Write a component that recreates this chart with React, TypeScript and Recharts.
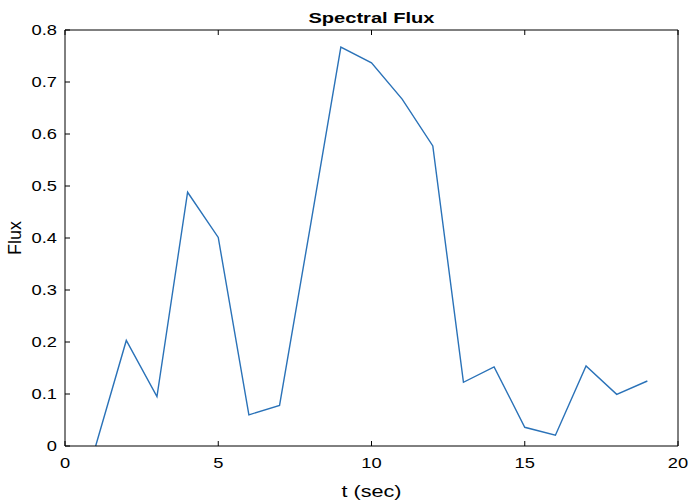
import React from 'react';
import { LineChart, Line, XAxis, YAxis } from 'recharts';

const times = [1, 2, 3, 4, 5, 6, 7, 8, 9, 10, 11, 12, 13, 14, 15, 16, 17, 18, 19];
const flux = [0, 0.203, 0.095, 0.488, 0.401, 0.06, 0.078, 0.421, 0.767, 0.737, 0.667, 0.577, 0.1225, 0.152, 0.036, 0.0206, 0.154, 0.0994, 0.125];
const xTicks = [0, 5, 10, 15, 20];
const yTicks = [0, 0.1, 0.2, 0.3, 0.4, 0.5, 0.6, 0.7, 0.8];

const data = times.map((t, i) => ({ t, flux: flux[i] }));

const font = 'Liberation Sans, Arial, Helvetica, sans-serif';
const STRETCH = 1.22;

const fmtY = (v: number) => (v === 0 ? '0' : String(Math.round(v * 10) / 10));

const stretchAt = (x: number, y: number, s: number) =>
  `translate(${x} ${y}) scale(${s} 1) translate(${-x} ${-y})`;

const YTick = (props: any) => {
  const { x, y, payload } = props;
  return (
    <text x={x} y={y} dy="0.355em" textAnchor="end" fontSize={15} fontFamily={font} fill="#000" transform={stretchAt(x, y, STRETCH)}>
      {fmtY(payload.value)}
    </text>
  );
};

const XTick = (props: any) => {
  const { x, y, payload } = props;
  return (
    <text x={x} y={y} dy="0.71em" textAnchor="middle" fontSize={15} fontFamily={font} fill="#000" transform={stretchAt(x, y, STRETCH)}>
      {String(payload.value)}
    </text>
  );
};

export default function App() {
  return (
    <div style={{ position: 'absolute', left: 0, top: 0, background: '#fff' }}>
      <LineChart width={689} height={501} data={data} margin={{ top: 29, right: 10, bottom: 0, left: 0 }}>
        <XAxis
          xAxisId="b"
          dataKey="t"
          type="number"
          domain={[0, 20]}
          ticks={xTicks}
          height={55}
          tickSize={-5}
          tickMargin={16}
          stroke="#000"
          tick={<XTick />}
          allowDataOverflow
          label={{
            value: 't (sec)',
            position: 'insideBottom',
            offset: 4,
            style: { fontSize: 17, fill: '#000', fontFamily: font, transform: 'scaleX(1.27)', transformBox: 'fill-box', transformOrigin: 'center' },
          }}
        />
        <XAxis
          xAxisId="t"
          orientation="top"
          dataKey="t"
          type="number"
          domain={[0, 20]}
          ticks={xTicks}
          height={1}
          tickSize={-5}
          stroke="#000"
          tickFormatter={() => ''}
          label={{
            value: 'Spectral Flux',
            position: 'top',
            offset: 6,
            style: { fontSize: 15, fontWeight: 'bold', fill: '#000', fontFamily: font, transform: 'scaleX(1.34)', transformBox: 'fill-box', transformOrigin: 'center' },
          }}
        />
        <YAxis
          yAxisId="l"
          domain={[0, 0.8]}
          ticks={yTicks}
          width={65}
          tickSize={-5}
          tickMargin={13}
          stroke="#000"
          tick={<YTick />}
          label={{ value: 'Flux', angle: -90, position: 'insideLeft', offset: 15, style: { fontSize: 18, fill: '#000', fontFamily: font, textAnchor: 'middle' } }}
        />
        <YAxis
          yAxisId="r"
          orientation="right"
          domain={[0, 0.8]}
          ticks={yTicks}
          width={1}
          tickSize={-5}
          stroke="#000"
          tickFormatter={() => ''}
        />
        <Line
          xAxisId="b"
          yAxisId="l"
          dataKey="flux"
          type="linear"
          stroke="#2a72b8"
          strokeWidth={1.4}
          dot={false}
          activeDot={false}
          isAnimationActive={false}
        />
      </LineChart>
    </div>
  );
}
